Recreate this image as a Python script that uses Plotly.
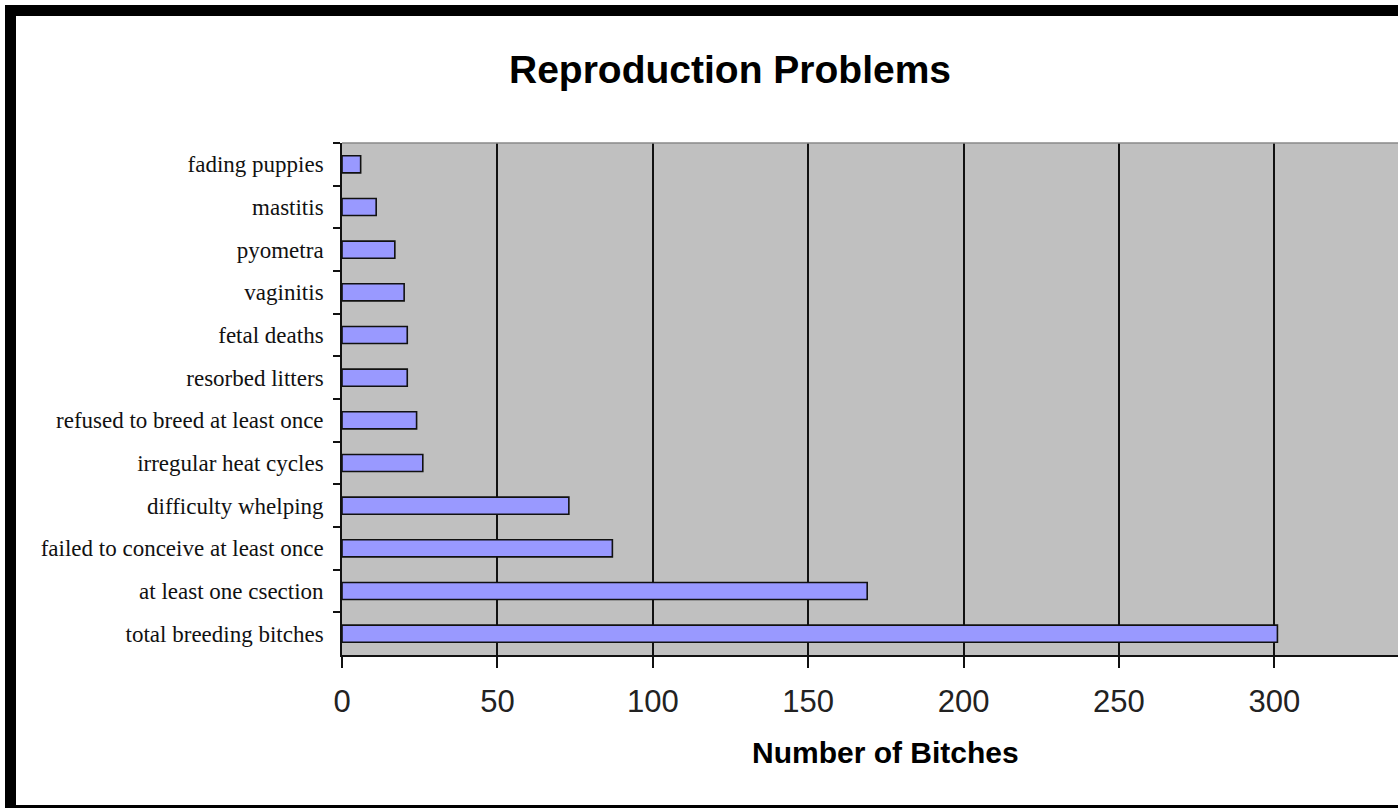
import plotly.graph_objects as go

# Reproduction problems reported, listed top to bottom as shown on the chart
problems = [
    "fading puppies",
    "mastitis",
    "pyometra",
    "vaginitis",
    "fetal deaths",
    "resorbed litters",
    "refused to breed at least once",
    "irregular heat cycles",
    "difficulty whelping",
    "failed to conceive at least once",
    "at least one csection",
    "total breeding bitches",
]
bitches = [6, 11, 17, 20, 21, 21, 24, 26, 73, 87, 169, 301]

x_ticks = [0, 50, 100, 150, 200, 250, 300]

W, H = 1398, 808
L, R, T, B = 342, 0, 143, 153
PW, PH = W - L - R, H - T - B


def px_x(x):
    return (x - L) / PW


def px_y(y):
    return (H - B - y) / PH


fig = go.Figure(
    go.Bar(
        x=bitches,
        y=problems,
        orientation="h",
        width=0.4,
        marker=dict(color="#9999FF", line=dict(color="#111111", width=1.6)),
        hoverinfo="x+y",
    )
)

# Outer black frame of the chart
frame = dict(type="rect", xref="paper", yref="paper", fillcolor="black",
             line=dict(width=0), layer="above")
shapes = [
    dict(frame, x0=px_x(5), x1=px_x(16), y0=px_y(5), y1=px_y(806)),
    dict(frame, x0=px_x(5), x1=px_x(1400), y0=px_y(5), y1=px_y(16)),
    dict(frame, x0=px_x(5), x1=px_x(1400), y0=px_y(805), y1=px_y(812)),
    # thin grey border along the top of the plot area
    dict(type="line", xref="paper", yref="paper", x0=0, x1=1, y0=1, y1=1,
         line=dict(color="#8a8a8a", width=1.5)),
]

fig.update_layout(
    width=W,
    height=H,
    margin=dict(l=L, r=R, t=T, b=B, pad=0),
    paper_bgcolor="white",
    plot_bgcolor="#C0C0C0",
    showlegend=False,
    bargap=0.6,
    shapes=shapes,
    annotations=[
        dict(text="<b>Reproduction Problems</b>", xref="paper", yref="paper",
             x=px_x(730), y=px_y(69), xanchor="center", yanchor="middle",
             showarrow=False,
             font=dict(family="Liberation Sans, Arial", size=39, color="black")),
        dict(text="<b>Number of Bitches</b>", xref="paper", yref="paper",
             x=px_x(885), y=px_y(752), xanchor="center", yanchor="middle",
             showarrow=False,
             font=dict(family="Liberation Sans, Arial", size=30, color="black")),
    ],
)

fig.update_xaxes(
    range=[0, 339.8],
    tickvals=x_ticks,
    ticktext=[str(v) for v in x_ticks],
    showgrid=True,
    gridcolor="#111111",
    gridwidth=1.6,
    zeroline=False,
    showline=True,
    linecolor="#111111",
    linewidth=1.6,
    ticks="outside",
    ticklen=11,
    tickwidth=1.6,
    tickcolor="#111111",
    ticklabelstandoff=7,
    tickfont=dict(family="Liberation Sans, Arial", size=31, color="#222222"),
)

fig.update_yaxes(
    autorange="reversed",
    showgrid=False,
    zeroline=False,
    showline=True,
    linecolor="#111111",
    linewidth=1.6,
    ticks="outside",
    tickson="boundaries",
    ticklen=7,
    tickwidth=1.6,
    tickcolor="#111111",
    ticklabelstandoff=12,
    tickfont=dict(family="Liberation Serif, Times New Roman", size=23, color="#111111"),
)

fig.write_html("out.html")
